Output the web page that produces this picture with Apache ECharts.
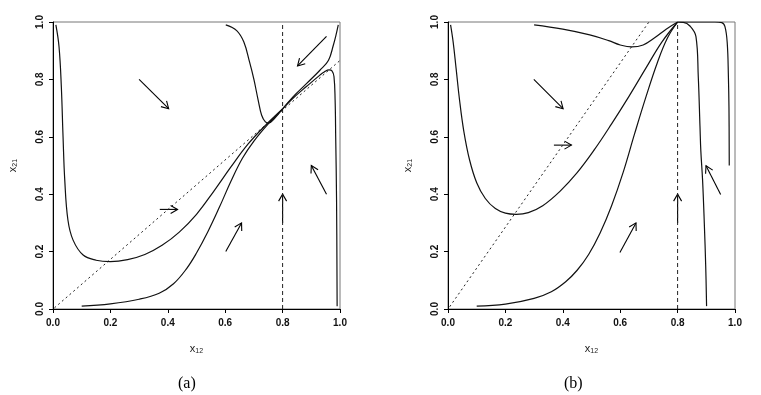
<!DOCTYPE html>
<html>
<head>
<meta charset="utf-8">
<script src="https://cdn.jsdelivr.net/npm/echarts@6/dist/echarts.min.js"></script>
<style>
  html, body { margin: 0; padding: 0; background: #fff; }
  #chart { width: 761px; height: 395px; }
</style>
</head>
<body>
<div id="chart"></div>
<script>
// tick values shared by both panels
var tickMin = 0, tickMax = 1, tickStep = 0.2;
var panelLabels = ['(a)', '(b)'];
var equilibriumX = 0.8;

// panel (a)
var a_diagonal = [[0.005, 0.004], [1.0, 0.866]];
var a_curve1 = [[0.010, 0.99], [0.021, 0.914], [0.029, 0.775], [0.035, 0.60], [0.041, 0.449], [0.052, 0.31],
    [0.07, 0.24], [0.105, 0.188], [0.15, 0.17], [0.2, 0.165], [0.26, 0.172], [0.32, 0.19], [0.38, 0.222],
    [0.44, 0.268], [0.5, 0.33], [0.56, 0.41], [0.62, 0.495], [0.68, 0.575], [0.74, 0.64], [0.8, 0.697]];
var a_curve2 = [[0.1, 0.01], [0.2, 0.018], [0.3, 0.034], [0.37, 0.055], [0.42, 0.088], [0.465, 0.14],
    [0.5, 0.195], [0.54, 0.27], [0.58, 0.355], [0.62, 0.445], [0.66, 0.525], [0.7, 0.585],
    [0.75, 0.645], [0.8, 0.697]];
var a_curve3 = [[0.602, 0.99], [0.64, 0.97], [0.665, 0.93], [0.685, 0.86], [0.7, 0.8], [0.715, 0.727],
    [0.727, 0.675], [0.74, 0.652], [0.752, 0.648], [0.77, 0.662], [0.8, 0.697]];
var a_curve4 = [[0.994, 0.99], [0.985, 0.95], [0.977, 0.92], [0.96, 0.867], [0.93, 0.832],
    [0.884, 0.786], [0.837, 0.74], [0.8, 0.697]];
var a_curve5 = [[0.99, 0.01], [0.988, 0.38], [0.985, 0.6], [0.983, 0.727], [0.979, 0.81], [0.972, 0.83],
    [0.962, 0.833], [0.945, 0.826], [0.93, 0.815], [0.884, 0.776], [0.837, 0.735], [0.8, 0.697]];
// arrows: x0, y0, x1, y1
var a_arrows = [[0.3, 0.8, 0.403, 0.698], [0.372, 0.347, 0.434, 0.347], [0.602, 0.2, 0.657, 0.3],
    [0.8, 0.3, 0.8, 0.4], [0.953, 0.4, 0.9, 0.5], [0.953, 0.95, 0.852, 0.847]];

// panel (b)
var b_diagonal = [[0.006, 0.008], [0.70, 1.0]];
var b_curve1 = [[0.009, 0.99], [0.018, 0.93], [0.028, 0.84], [0.04, 0.73], [0.055, 0.62], [0.075, 0.52],
    [0.1, 0.44], [0.13, 0.385], [0.165, 0.35], [0.2, 0.334], [0.238, 0.33], [0.28, 0.336], [0.33, 0.36],
    [0.39, 0.41], [0.45, 0.475], [0.51, 0.555], [0.57, 0.645], [0.63, 0.74], [0.69, 0.84], [0.745, 0.93],
    [0.8, 1.0]];
var b_curve2 = [[0.1, 0.01], [0.2, 0.017], [0.3, 0.037], [0.36, 0.06], [0.41, 0.095], [0.45, 0.135],
    [0.49, 0.19], [0.53, 0.265], [0.57, 0.36], [0.61, 0.475], [0.65, 0.61], [0.69, 0.74], [0.73, 0.86],
    [0.765, 0.945], [0.8, 1.0]];
var b_curve3 = [[0.3, 0.99], [0.4, 0.975], [0.494, 0.955], [0.56, 0.935], [0.6, 0.92], [0.64, 0.913],
    [0.68, 0.92], [0.72, 0.945], [0.76, 0.975], [0.8, 1.0]];
var b_curve4 = [[0.901, 0.01], [0.898, 0.147], [0.893, 0.3], [0.887, 0.45], [0.881, 0.55], [0.878, 0.636],
    [0.872, 0.81], [0.864, 0.949], [0.843, 0.986], [0.82, 0.999], [0.8, 1.0]];
var b_curve5 = [[0.98, 0.5], [0.979, 0.7], [0.977, 0.81], [0.973, 0.926], [0.965, 0.984], [0.954, 0.998],
    [0.93, 1.0], [0.8, 1.0]];
var b_arrows = [[0.299, 0.8, 0.401, 0.698], [0.369, 0.571, 0.43, 0.571], [0.599, 0.197, 0.655, 0.3],
    [0.8, 0.3, 0.8, 0.4], [0.95, 0.399, 0.899, 0.499]];

var panels = [
    { left: 53, diagonal: a_diagonal, curves: [a_curve1, a_curve2, a_curve3, a_curve4, a_curve5], arrows: a_arrows, labelX: 190 },
    { left: 448, diagonal: b_diagonal, curves: [b_curve1, b_curve2, b_curve3, b_curve4, b_curve5], arrows: b_arrows, labelX: 576 }
];

var labelFont = { fontFamily: 'Liberation Sans', fontSize: 10, fontWeight: 'bold', color: '#111' };
var nameRich = {
    v: { fontFamily: 'Liberation Sans', fontSize: 11, color: '#222', lineHeight: 13 },
    s: { fontFamily: 'Liberation Sans', fontSize: 7, color: '#222', verticalAlign: 'bottom', lineHeight: 13 }
};

function renderArrow(params, api) {
    var p0 = api.coord([api.value(0), api.value(1)]);
    var p1 = api.coord([api.value(2), api.value(3)]);
    var ang = Math.atan2(p1[1] - p0[1], p1[0] - p0[0]);
    var len = 8, spread = Math.PI / 6;
    var h1 = [p1[0] - len * Math.cos(ang - spread), p1[1] - len * Math.sin(ang - spread)];
    var h2 = [p1[0] - len * Math.cos(ang + spread), p1[1] - len * Math.sin(ang + spread)];
    var style = { stroke: '#000', lineWidth: 1.1, fill: null };
    return {
        type: 'group',
        children: [
            { type: 'line', shape: { x1: p0[0], y1: p0[1], x2: p1[0], y2: p1[1] }, style: style },
            { type: 'polyline', shape: { points: [h1, p1, h2] }, style: style }
        ]
    };
}

function makeAxis(idx, isX) {
    var axis = {
        type: 'value', gridIndex: idx, min: tickMin, max: tickMax, interval: tickStep,
        nameLocation: 'middle',
        axisLine: { show: true, onZero: false, lineStyle: { color: '#000', width: 1 } },
        axisTick: { show: true, length: 4, lineStyle: { color: '#000' } },
        splitLine: { show: false },
        axisLabel: Object.assign({ margin: 9, formatter: function (v) { return v.toFixed(1); } }, labelFont),
        nameTextStyle: { rich: nameRich }
    };
    if (isX) {
        axis.name = '{v|x}{s|12}';
        axis.nameGap = 33;
    } else {
        axis.name = '{v|x}{s|21}';
        axis.nameGap = 34;
        axis.nameRotate = 90;
        axis.axisLabel.rotate = 90;
        axis.axisLabel.margin = 8;
    }
    return axis;
}

var option = {
    animation: false,
    grid: [], xAxis: [], yAxis: [], series: [], graphic: []
};

panels.forEach(function (p, i) {
    option.grid.push({ left: p.left, top: 22, width: 287, height: 287, show: true, borderColor: '#777', borderWidth: 1 });
    option.xAxis.push(makeAxis(i, true));
    option.yAxis.push(makeAxis(i, false));

    option.series.push({
        type: 'line', xAxisIndex: i, yAxisIndex: i, data: p.diagonal, showSymbol: false, silent: true,
        lineStyle: { color: '#222', width: 1, type: [2, 3] }
    });
    option.series.push({
        type: 'line', xAxisIndex: i, yAxisIndex: i, data: [[equilibriumX, tickMin], [equilibriumX, tickMax]],
        showSymbol: false, silent: true,
        lineStyle: { color: '#222', width: 1, type: [4, 3] }
    });
    p.curves.forEach(function (c) {
        option.series.push({
            type: 'line', xAxisIndex: i, yAxisIndex: i, data: c, showSymbol: false, smooth: 0.4, silent: true,
            lineStyle: { color: '#111', width: 1.2 }
        });
    });
    option.series.push({
        type: 'custom', xAxisIndex: i, yAxisIndex: i, data: p.arrows, renderItem: renderArrow,
        encode: { x: [0, 2], y: [1, 3] }, silent: true
    });
    option.graphic.push({
        type: 'text', left: p.labelX - 12, top: 376,
        style: { text: panelLabels[i], font: '16px "Liberation Serif"', fill: '#000' }
    });
});

var chart = echarts.init(document.getElementById('chart'));
chart.setOption(option);
</script>
</body>
</html>
